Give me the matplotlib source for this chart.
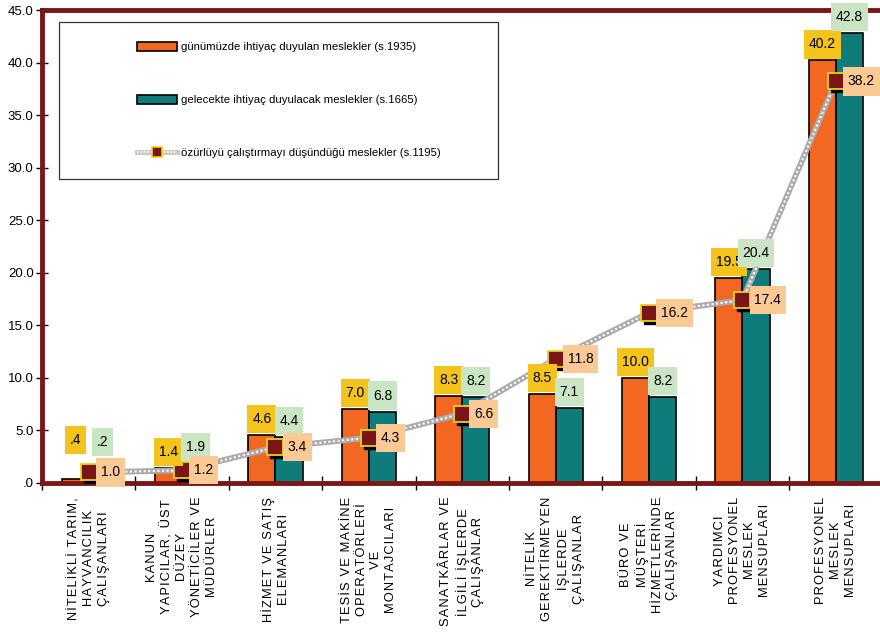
import matplotlib
matplotlib.use('Agg')
import matplotlib.pyplot as plt
import numpy as np
from matplotlib.lines import Line2D
from matplotlib.patches import Patch, Rectangle
from matplotlib.transforms import offset_copy

plt.rcParams['font.family'] = ['Liberation Sans', 'DejaVu Sans']

# occupation groups
categories = [
    "NİTELİKLİ TARIM,\nHAYVANCILIK\nÇALIŞANLARI",
    "KANUN\nYAPICILAR, ÜST\nDÜZEY\nYÖNETİCİLER VE\nMÜDÜRLER",
    "HİZMET VE SATIŞ\nELEMANLARI",
    "TESİS VE MAKİNE\nOPERATÖRLERİ\nVE\nMONTAJCILARI",
    "SANATKÂRLAR VE\nİLGİLİ İŞLERDE\nÇALIŞANLAR",
    "NİTELİK\nGEREKTİRMEYEN\nİŞLERDE\nÇALIŞANLAR",
    "BÜRO VE\nMÜŞTERİ\nHİZMETLERİNDE\nÇALIŞANLAR",
    "YARDIMCI\nPROFESYONEL\nMESLEK\nMENSUPLARI",
    "PROFESYONEL\nMESLEK\nMENSUPLARI",
]

# percentages
today = [0.4, 1.4, 4.6, 7.0, 8.3, 8.5, 10.0, 19.5, 40.2]
future = [0.2, 1.9, 4.4, 6.8, 8.2, 7.1, 8.2, 20.4, 42.8]
disabled = [1.0, 1.2, 3.4, 4.3, 6.6, 11.8, 16.2, 17.4, 38.2]

legend_labels = [
    "günümüzde ihtiyaç duyulan meslekler (s.1935)",
    "gelecekte ihtiyaç duyulacak meslekler (s.1665)",
    "özürlüyü çalıştırmayı düşündüğü meslekler (s.1195)",
]

yticks = np.arange(0, 46, 5)

ORANGE = '#F26722'
TEAL = '#0E7C7A'
DARKRED = '#7A1616'
GOLD = '#F5C41C'
MINT = '#C9E5C4'
PEACH = '#FBC994'


def fmt(v):
    s = f"{v:.1f}"
    return s[1:] if s.startswith("0") else s


def spaced(label):
    # the original axis text is letter-spaced; mimic with hair spaces
    return "\n".join("\u200a".join(line) for line in label.split("\n"))


fig = plt.figure(figsize=(8.8, 6.34), dpi=100)
ax = fig.add_axes([0.0477, 0.2382, 0.9552, 0.7460])

x = np.arange(len(categories))
w = 0.29

ax.bar(x - w / 2, today, w, color=ORANGE, edgecolor='black', linewidth=1.2, zorder=2)
ax.bar(x + w / 2, future, w, color=TEAL, edgecolor='black', linewidth=1.2, zorder=2)

# dotted "rope" line with shadowed square markers
ax.plot(x, disabled, color='#ABABAB', lw=4.2, zorder=3, solid_capstyle='butt')
ax.plot(x, disabled, color='white', lw=1.5, ls=(0, (1, 1.2)), zorder=3.1)
shadow = offset_copy(ax.transData, fig=fig, x=3, y=-3, units='dots')
ax.plot(x, disabled, 's', ms=11.5, color='black', transform=shadow, zorder=4)
ax.plot(x, disabled, 's', ms=11.5, mfc='#7B1417', mec='#E8D21D', mew=1.3, zorder=5)

# value labels
box = dict(boxstyle='square,pad=0.35', ec='none', mutation_aspect=1.45)
lift = np.full(len(categories), 16)
lift[0] = 39
for i in range(len(categories)):
    ax.annotate(fmt(today[i]), (x[i] - w / 2, today[i]), xytext=(0, lift[i]),
                textcoords='offset pixels', ha='center', va='center', fontsize=10,
                bbox=dict(box, fc=GOLD), zorder=6)
    ax.annotate(fmt(future[i]), (x[i] + w / 2, future[i]), xytext=(0, lift[i]),
                textcoords='offset pixels', ha='center', va='center', fontsize=10,
                bbox=dict(box, fc=MINT), zorder=6)
    ax.annotate(fmt(disabled[i]), (x[i], disabled[i]), xytext=(12, 0),
                textcoords='offset pixels', ha='left', va='center', fontsize=10,
                bbox=dict(box, fc=PEACH), zorder=6)

ax.set_xlim(-0.5, len(categories) - 0.5)
ax.set_ylim(0, 45)
ax.set_yticks(yticks, [fmt(v) for v in yticks])
ax.tick_params(axis='y', direction='inout', length=8, width=1, labelsize=9.5, pad=2)

ax.set_xticks(x)
ax.set_xticklabels([spaced(c) for c in categories], rotation=90, ha='center', va='top',
                   multialignment='center', fontsize=9.3, linespacing=1.3)
ax.tick_params(axis='x', which='major', length=0, pad=10)
ax.set_xticks(np.arange(-0.5, len(categories), 1), minor=True)
ax.tick_params(axis='x', which='minor', direction='inout', length=10, width=1)

for s in ax.spines.values():
    s.set_color(DARKRED)
    s.set_linewidth(3.5)

# legend with its own frame
ax.add_patch(Rectangle((0.0202, 0.6427), 0.5223, 0.3319, transform=ax.transAxes,
                       facecolor='white', edgecolor='#333333', lw=0.9, zorder=7))
handles = [
    Patch(facecolor=ORANGE, edgecolor='black', linewidth=1.2),
    Patch(facecolor=TEAL, edgecolor='black', linewidth=1.2),
    (Line2D([], [], color='#C8C8C8', lw=3.5),
     Line2D([], [], color='white', lw=1.2, ls=(0, (1, 1))),
     Line2D([], [], marker='s', ms=7, mfc='#7B1417', mec='#E8D21D', mew=1.2, ls='none')),
]
leg = ax.legend(handles, legend_labels, loc='upper left',
                bbox_to_anchor=(137 / 880, 1 - 42 / 634), bbox_transform=fig.transFigure,
                frameon=False, fontsize=8.2, handlelength=3.5, handleheight=0.8,
                handletextpad=0.35, labelspacing=3.75, borderpad=0, borderaxespad=0)
leg.set_zorder(8)

fig.savefig('out.png', dpi=100)
